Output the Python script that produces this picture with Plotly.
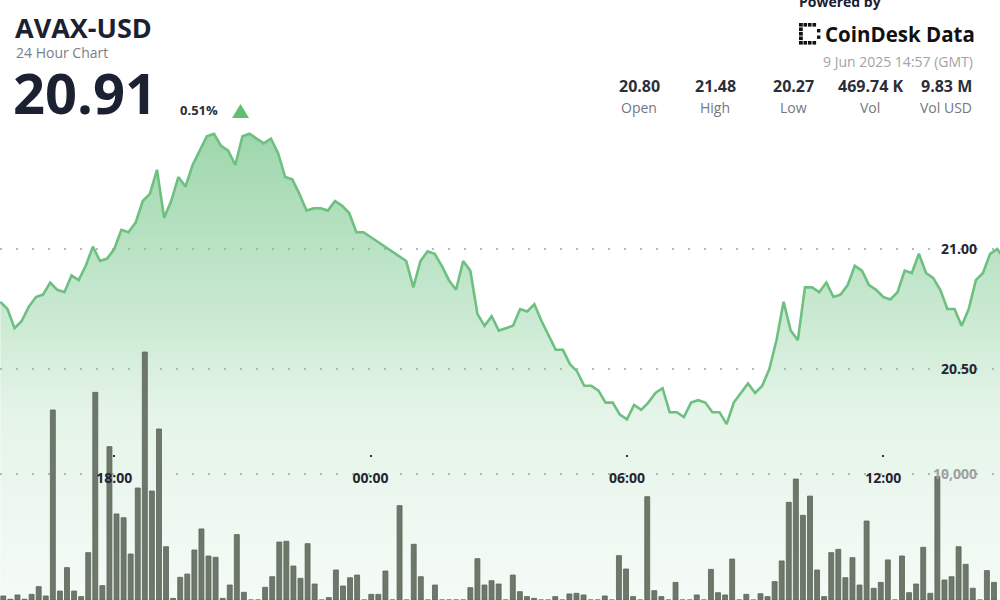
import plotly.graph_objects as go
import pandas as pd

# ---------------- data ----------------
price_start = "2025-06-08 15:20"
prices = [
    20.78, 20.75, 20.67, 20.70, 20.76, 20.80, 20.81, 20.86, 20.83, 20.82,
    20.89, 20.87, 20.93, 21.01, 20.95, 20.96, 21.00, 21.08, 21.07, 21.11,
    21.20, 21.23, 21.33, 21.13, 21.20, 21.30, 21.26, 21.35, 21.41, 21.47,
    21.48, 21.43, 21.41, 21.35, 21.47, 21.48, 21.46, 21.44, 21.46, 21.40,
    21.30, 21.29, 21.23, 21.16, 21.17, 21.17, 21.16, 21.20, 21.18, 21.15,
    21.07, 21.07, 21.05, 21.03, 21.01, 20.99, 20.97, 20.95, 20.84, 20.95,
    20.99, 20.98, 20.93, 20.87, 20.83, 20.95, 20.91, 20.73, 20.68, 20.72,
    20.66, 20.67, 20.68, 20.75, 20.74, 20.77, 20.70, 20.64, 20.58, 20.58,
    20.52, 20.49, 20.43, 20.43, 20.41, 20.36, 20.36, 20.31, 20.29, 20.35,
    20.33, 20.36, 20.40, 20.42, 20.32, 20.32, 20.30, 20.36, 20.37, 20.36,
    20.32, 20.32, 20.27, 20.36, 20.40, 20.44, 20.40, 20.43, 20.50, 20.62,
    20.78, 20.66, 20.62, 20.84, 20.84, 20.82, 20.86, 20.80, 20.81, 20.85,
    20.93, 20.91, 20.85, 20.83, 20.80, 20.79, 20.82, 20.91, 20.90, 20.98,
    20.90, 20.88, 20.83, 20.75, 20.75, 20.68, 20.75, 20.87, 20.90, 20.98,
    21.00, 20.96,
]

vol_start = "2025-06-08 15:25"
volumes = [
    320, 60, 400, 60, 450, 1060, 320, 15080, 710, 2570,
    710, 270, 3760, 16480, 1140, 12170, 6830, 6530, 3650, 8890,
    19680, 8650, 13570, 4230, 130, 1800, 2060, 3970, 5640, 3490,
    3390, 130, 1190, 5190, 610, 0, 0, 1010, 1850, 4600,
    4660, 2700, 1720, 4470, 1270, 0, 190, 2380, 1110, 1770,
    1980, 0, 450, 450, 2300, 0, 7490, 0, 4420, 1850,
    0, 1190, 0, 0, 0, 0, 980, 3280, 1190, 1530,
    1270, 0, 1980, 660, 270, 130, 0, 0, 270, 0,
    480, 530, 400, 0, 0, 320, 0, 3520, 2460, 270,
    0, 8200, 740, 270, 0, 1400, 0, 0, 400, 0,
    2430, 580, 400, 3250, 0, 450, 0, 500, 270, 1460,
    3100, 7750, 9600, 6720, 8250, 2380, 270, 3760, 4020, 1770,
    3360, 1190, 6270, 930, 1400, 3180, 0, 3490, 580, 1270,
    4180, 530, 9790, 1590, 1850, 4230, 2830, 930, 0, 2330,
    1400,
]

x_tick_vals = ["2025-06-08 18:00", "2025-06-09 00:00", "2025-06-09 06:00", "2025-06-09 12:00"]
x_tick_text = ["18:00", "00:00", "06:00", "12:00"]
price_ticks = [20.50, 21.00]
volume_ticks = [10000]

symbol = "AVAX-USD"
subtitle = "24 Hour Chart"
last_price = "20.91"
change_pct = "0.51%"
timestamp = "9 Jun 2025 14:57 (GMT)"
stat_values = ["20.80", "21.48", "20.27", "469.74 K", "9.83 M"]
stat_labels = ["Open", "High", "Low", "Vol", "Vol USD"]

# ---------------- figure ----------------
price_times = pd.date_range(price_start, periods=len(prices), freq="10min")
vol_times = pd.date_range(vol_start, periods=len(volumes), freq="10min")

FONT = "Open Sans"
W, H = 1000, 600


def px(x):
    return x / W


def py(y):
    return 1 - y / H


fig = go.Figure()

fig.add_trace(go.Scatter(
    x=price_times, y=prices, mode="lines",
    line=dict(color="rgb(110,192,128)", width=2.6),
    fill="tozeroy",
    fillgradient=dict(
        type="vertical",
        start=19.54, stop=21.48,
        colorscale=[
            [0.0, "rgba(110,196,132,0.07)"],
            [0.40, "rgba(110,196,132,0.18)"],
            [0.65, "rgba(110,196,132,0.40)"],
            [1.0, "rgba(104,192,126,0.64)"],
        ],
    ),
    xaxis="x", yaxis="y", hoverinfo="skip", showlegend=False,
))

fig.add_trace(go.Bar(
    x=vol_times, y=volumes,
    width=420000,
    marker=dict(color="rgb(110,120,106)", line=dict(width=0.8, color="rgb(90,100,88)")),
    xaxis="x2", yaxis="y2", hoverinfo="skip", showlegend=False,
))

grid_dash = "2px,14px"
grid_color = "#b8b8b8"

fig.update_layout(
    width=W, height=H,
    margin=dict(l=0, r=0, t=0, b=0),
    paper_bgcolor="white", plot_bgcolor="white",
    font=dict(family=FONT),
    showlegend=False,
    xaxis=dict(
        type="date",
        range=["2025-06-08 15:19:32", "2025-06-09 14:43:54"],
        tickvals=x_tick_vals, ticktext=x_tick_text,
        anchor="free", position=py(454), side="bottom",
        ticks="outside", ticklen=2, tickwidth=2, tickcolor="#333",
        ticklabelstandoff=9,
        tickfont=dict(size=14, color="#222631", weight="bold"),
        showgrid=False, showline=False, zeroline=False,
    ),
    xaxis2=dict(
        type="date", overlaying="x",
        range=["2025-06-08 15:20:20", "2025-06-09 14:53:30"],
        visible=False,
    ),
    yaxis=dict(
        range=[19.5375, 22.0375],
        tickvals=price_ticks, tickformat=".2f",
        anchor="free", position=0.977, side="left",
        ticks="", showline=False, zeroline=False,
        showgrid=True, gridcolor=grid_color, griddash=grid_dash, gridwidth=2,
        tickfont=dict(size=14, color="#222631", weight="bold"),
    ),
    yaxis2=dict(
        overlaying="y",
        range=[0, 47619],
        tickvals=volume_ticks, tickformat=",d",
        anchor="free", position=0.977, side="left",
        ticks="", showline=False, zeroline=False,
        showgrid=True, gridcolor=grid_color, griddash=grid_dash, gridwidth=2,
        tickfont=dict(size=14, color="#a0a0a0", weight="bold"),
    ),
    bargap=0.3,
)

ann = []


def text(x, y, s, size, color, weight="normal", xanchor="left"):
    ann.append(dict(
        x=px(x), y=py(y), xref="paper", yref="paper", text=s, showarrow=False,
        xanchor=xanchor, yanchor="middle",
        font=dict(family=FONT, size=size, color=color, weight=weight),
    ))


text(13, 27, symbol, 27, "#1b2130", "bold")
text(14, 52, subtitle, 14, "#7a7e86")
text(11, 92, last_price, 56, "#1b2130", "bold")
text(178, 110, change_pct, 13, "#2a2f3a", "bold")

text(797, 2, "Powered by", 14, "#1b2130", "bold")
text(823, 34, "CoinDesk Data", 20.5, "#111111", "bold")
text(975, 62, timestamp, 14, "#a3a3a3", xanchor="right")

stat_x = [639, 715, 793, 870, 946]
for sx, v, lab in zip(stat_x, stat_values, stat_labels):
    text(sx, 86, v, 16, "#2a2f3a", "bold", xanchor="center")
    text(sx, 108, lab, 14, "#73777e", xanchor="center")

fig.update_layout(annotations=ann)

shapes = []
# up triangle next to change
shapes.append(dict(
    type="path", xref="paper", yref="paper",
    path=f"M {px(232)} {py(118)} L {px(249)} {py(118)} L {px(240.5)} {py(104)} Z",
    fillcolor="rgb(98,190,115)", line=dict(width=0),
))


def rect(x0, y0, x1, y1, color="#111111"):
    shapes.append(dict(type="rect", xref="paper", yref="paper",
                       x0=px(x0), x1=px(x1), y0=py(y1), y1=py(y0),
                       fillcolor=color, line=dict(width=0)))


# CoinDesk logo glyph (dotted bracket)
for yy in (23, 27.5, 32, 36.5, 41):
    rect(799, yy, 802.8, yy + 3.6)
for xx in (803.5, 808, 812.5):
    rect(xx, 23, xx + 3.6, 26.6)
    rect(xx, 41, xx + 3.6, 44.6)
rect(817, 29, 820.4, 32.4)
rect(817, 35.5, 820.4, 38.9)
fig.update_layout(shapes=shapes)

fig.write_html(
    "out.html",
    config={"displayModeBar": False},
    post_script="document.body.style.margin='0';document.body.style.overflow='hidden';",
)
